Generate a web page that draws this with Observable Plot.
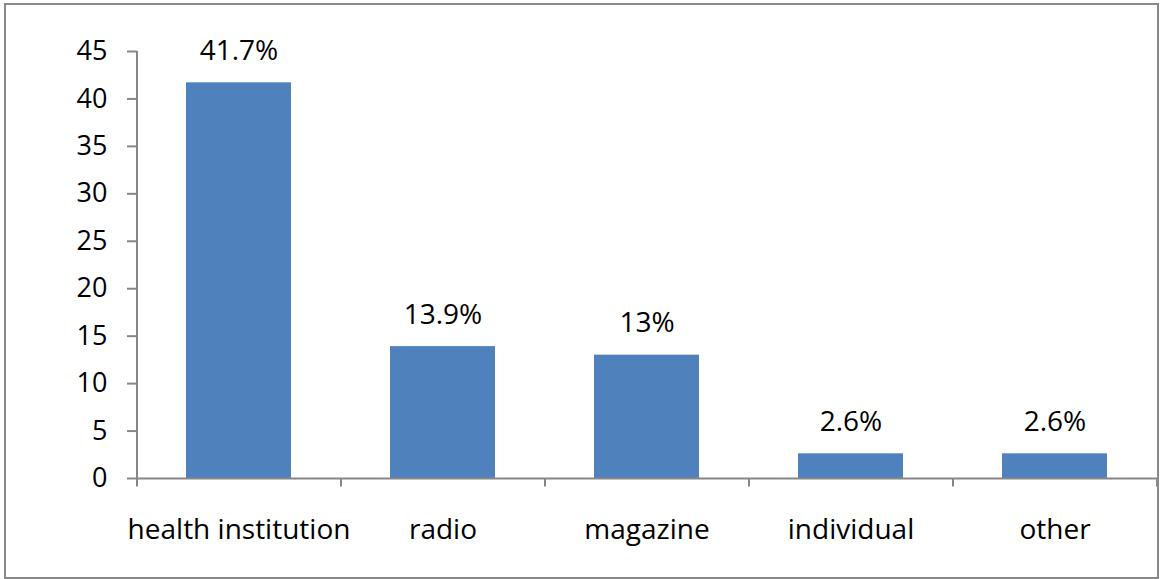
<!DOCTYPE html>
<html>
<head>
<meta charset="utf-8">
<script src="https://cdn.jsdelivr.net/npm/d3@7"></script>
<script src="https://cdn.jsdelivr.net/npm/@observablehq/plot@0.6"></script>
<style>
  html, body { margin: 0; padding: 0; background: #fff; }
  #wrap { position: relative; width: 1161px; height: 579px; }
  #border { position: absolute; left: 4px; top: 3px; width: 1151px; height: 572px; border: 2px solid #898989; pointer-events: none; }
</style>
</head>
<body>
<div id="wrap"><div id="border"></div></div>
<script>
const categories = ["health institution", "radio", "magazine", "individual", "other"];
const values = [41.7, 13.9, 13, 2.6, 2.6];
const valueLabels = ["41.7%", "13.9%", "13%", "2.6%", "2.6%"];
const yTicks = [0, 5, 10, 15, 20, 25, 30, 35, 40, 45];

const data = categories.map((c, i) => ({category: c, value: values[i], label: valueLabels[i]}));
const font = "Open Sans, sans-serif";
const axisColor = "#868686";
const half = 102;
const fs = 28;

const chart = Plot.plot({
  width: 1161,
  height: 579,
  marginLeft: 137,
  marginRight: 4,
  marginTop: 51,
  marginBottom: 101,
  style: {fontFamily: font, fontSize: fs + "px", color: "#000", background: "transparent"},
  x: {domain: categories, paddingInner: 0.485, paddingOuter: 0.2425, label: null},
  y: {domain: [0, 45], label: null},
  marks: [
    Plot.barY(data, {x: "category", y: "value", fill: "#4F81BD"}),
    Plot.axisY({ticks: yTicks, tickSize: 10, tickPadding: 20, stroke: axisColor, strokeWidth: 2, fill: "#000", fontSize: 27, label: null}),
    Plot.axisX({tickSize: 0, tickPadding: 41, fill: "#000", fontSize: fs, label: null}),
    Plot.ruleY([0], {stroke: axisColor, strokeWidth: 2}),
    Plot.ruleX([categories[0]], {x: d => d, dx: -half, y1: 0, y2: 45, stroke: axisColor, strokeWidth: 2}),
    Plot.ruleX(categories, {x: d => d, dx: -half, y1: 0, y2: -0.9, stroke: axisColor, strokeWidth: 2}),
    Plot.ruleX([categories[categories.length - 1]], {x: d => d, dx: half, y1: 0, y2: -0.9, stroke: axisColor, strokeWidth: 2}),
    Plot.text(data, {x: "category", y: "value", text: "label", dy: -32, fontSize: fs, fill: "#000"})
  ]
});
document.getElementById("wrap").prepend(chart);
</script>
</body>
</html>
